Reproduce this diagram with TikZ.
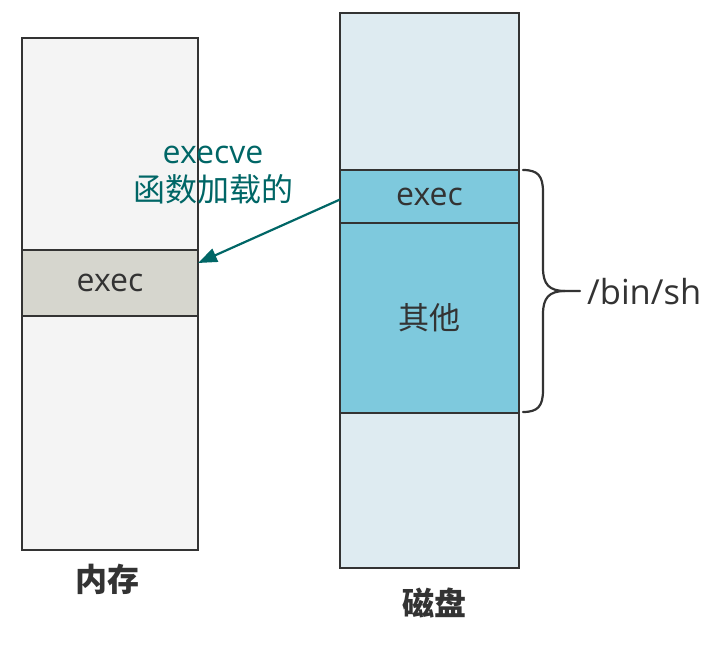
\documentclass[tikz,border=0pt]{standalone}
\usepackage{fontspec}
\setmainfont{Noto Sans CJK SC}
\newfontfamily\latinf{Open Sans}
\usetikzlibrary{arrows.meta}
\definecolor{linec}{HTML}{333333}
\definecolor{memfill}{HTML}{F4F4F4}
\definecolor{memband}{HTML}{D6D6CE}
\definecolor{diskfill}{HTML}{DEEBF1}
\definecolor{diskband}{HTML}{7EC9DD}
\definecolor{teal}{HTML}{006666}
\tikzset{
  blk/.style={draw=linec, line width=2.2pt, inner sep=0pt, outer sep=0pt, text=linec},
  lbl/.style={text=linec, inner sep=0pt},
}
\begin{document}
\begin{tikzpicture}[x=1pt,y=-1pt]
\useasboundingbox (0,0) rectangle (719,645);
% memory
\node[blk, fill=memfill, minimum width=176pt, minimum height=512pt] (mem) at (110,294) {};
\node[blk, fill=memband, minimum width=176pt, minimum height=66pt, font=\latinf\fontsize{32}{38}\selectfont] (mexec) at (110,283) {exec};
% disk
\node[blk, fill=diskfill, minimum width=179pt, minimum height=555pt] (disk) at (429.5,290.5) {};
\node[blk, fill=diskband, minimum width=179pt, minimum height=53pt, font=\latinf\fontsize{32}{38}\selectfont] (dexec) at (429.5,196.5) {\raisebox{-2pt}{exec}};
\node[blk, fill=diskband, minimum width=179pt, minimum height=190pt, font=\fontsize{31}{36}\selectfont] (dother) at (429.5,318) {其他};
% labels
\node[lbl, font=\bfseries\fontsize{32}{38}\selectfont] (memlbl) at (107,579) {内存};
\node[lbl, font=\bfseries\fontsize{32}{38}\selectfont] (disklbl) at (434,603) {磁盘};
% brace
\draw[linec, line width=2.2pt, line cap=round, line join=round]
  (523,170) .. controls (538,170) and (543,176) .. (543,192)
  -- (543,268) .. controls (543,284) and (549,291) .. (565,291)
  -- (580,291);
\draw[linec, line width=2.2pt, line cap=round, line join=round]
  (523,412) .. controls (538,412) and (543,406) .. (543,390)
  -- (543,314) .. controls (543,298) and (549,291) .. (565,291);
\node[lbl, anchor=west, font=\latinf\fontsize{34.5}{40}\selectfont] (bin) at (587,292) {/bin/sh};
% arrow
\coordinate (astart) at ([yshift=-3pt]dexec.west);
\coordinate (aend) at (mexec.east |- 0,263);
\draw[teal, line width=2.2pt, -{Triangle[length=19pt,width=14pt]}] (astart) -- (aend);
\node[text=teal, align=center, inner sep=0pt, font=\fontsize{32}{38}\selectfont] (alabel) at (213,175) {{\latinf execve}\\函数加载的};
\end{tikzpicture}
\end{document}
